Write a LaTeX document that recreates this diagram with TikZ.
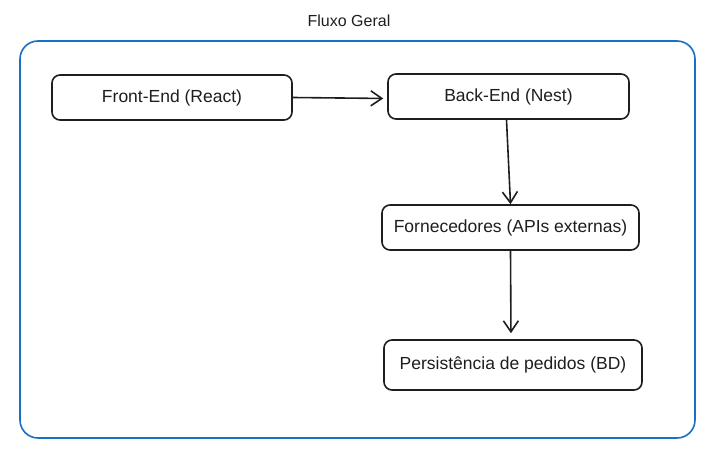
\documentclass[tikz,border=0pt]{standalone}
\usepackage{fontspec}
\setmainfont{Liberation Sans}
\usetikzlibrary{arrows.meta}
\definecolor{ink}{HTML}{1E1E1E}
\definecolor{frameblue}{HTML}{1971C2}
\tikzset{
  procbox/.style={draw=ink, line width=1.6pt, rounded corners=8pt, fill=white,
    minimum height=45pt, inner sep=0pt, font=\fontsize{17.5}{20}\selectfont, text=ink},
  flow/.style={draw=ink, line width=1.6pt, -{Straight Barb[length=11pt,width=15pt,line width=1.6pt]}},
}
\begin{document}
\begin{tikzpicture}[x=1pt,y=-1pt]
\useasboundingbox (0,0) rectangle (717,455);
\node[text=ink, font=\fontsize{16}{19}\selectfont] (title) at (349,21) {Fluxo Geral};
\draw[frameblue, line width=1.6pt, rounded corners=18pt] (20,41) rectangle (695,438);
\node[procbox, minimum width=240pt] (fe) at (172,97.5) {Front-End (React)};
\node[procbox, minimum width=241pt] (be) at (508.5,96.5) {Back-End (Nest)};
\node[procbox, minimum width=257pt] (fo) at (510.5,227.5) {Fornecedores (APIs externas)};
\node[procbox, minimum width=258pt, minimum height=50pt] (pe) at (513,365) {Persistência de pedidos (BD)};
\draw[flow, shorten >=4pt] ([yshift=0pt]fe.east) -- ([yshift=-2pt]be.west);
\draw[flow] ([xshift=-2pt]be.south) -- (fo.north);
\draw[flow, shorten >=6pt] (fo.south) -- ([xshift=-2pt]pe.north);
\end{tikzpicture}
\end{document}
